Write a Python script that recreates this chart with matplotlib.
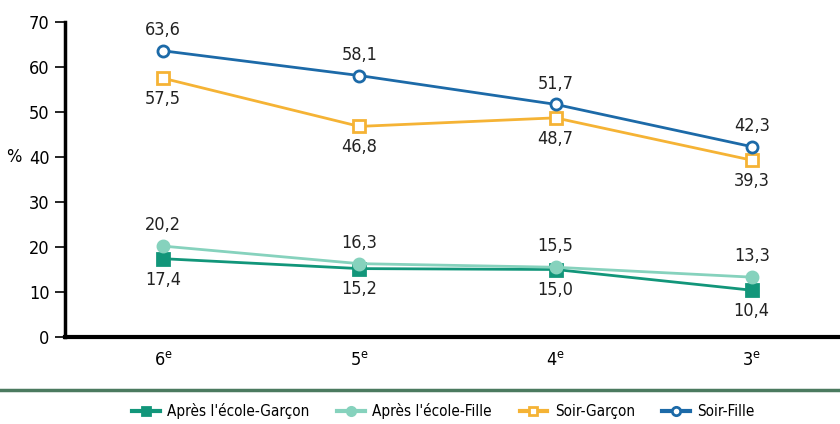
import matplotlib

matplotlib.use("Agg")
import matplotlib.pyplot as plt
from matplotlib.lines import Line2D

plt.rcParams["font.family"] = ["DejaVu Sans"]
plt.rcParams["font.stretch"] = "condensed"

levels = ["6$^{\\mathregular{e}}$", "5$^{\\mathregular{e}}$", "4$^{\\mathregular{e}}$", "3$^{\\mathregular{e}}$"]
apres_garcon = [17.4, 15.2, 15.0, 10.4]
apres_fille = [20.2, 16.3, 15.5, 13.3]
soir_garcon = [57.5, 46.8, 48.7, 39.3]
soir_fille = [63.6, 58.1, 51.7, 42.3]
yticks = [0, 10, 20, 30, 40, 50, 60, 70]

series = [
    # name, values, colour, marker, facecolour, label above?
    ("Après l'école-Garçon", apres_garcon, "#12967a", "s", "#12967a", False),
    ("Après l'école-Fille", apres_fille, "#86d2bd", "o", "#86d2bd", True),
    ("Soir-Garçon", soir_garcon, "#f5b335", "s", "white", False),
    ("Soir-Fille", soir_fille, "#1c6aa8", "o", "white", True),
]

fig = plt.figure(figsize=(8.4, 4.24), dpi=100)
ax = fig.add_axes([65 / 840, 1 - 337 / 424, 1 - 65 / 840, (337 - 22) / 424])

xs = list(range(len(levels)))
handles = []
for name, vals, col, mk, fc, above in series:
    ax.plot(xs, vals, color=col, lw=2, marker=mk, ms=8, mfc=fc, mec=col,
            mew=2, zorder=3, clip_on=False)
    for x, v in zip(xs, vals):
        off = 15 if above else -15
        ax.annotate(f"{v:.1f}".replace(".", ","), (x, v), textcoords="offset points",
                    xytext=(0, off), ha="center", va="center", fontsize=13,
                    color="#222222")
    handles.append(Line2D([], [], color=col, lw=3, marker=mk, ms=6, mfc=fc,
                          mec=col, mew=2, label=name))

ax.set_xlim(-0.5, 3.45)
ax.set_ylim(0, 70)
ax.set_xticks(xs)
ax.set_xticklabels(levels, fontsize=13)
ax.set_yticks(yticks)
ax.tick_params(axis="y", length=7, width=1.2, labelsize=13, pad=4)
ax.tick_params(axis="x", length=0, pad=10)
for s in ("top", "right"):
    ax.spines[s].set_visible(False)
ax.spines["left"].set_linewidth(2.5)
ax.spines["bottom"].set_linewidth(3)
ax.text(-0.066, 0.57, "%", transform=ax.transAxes, fontsize=13, ha="center", va="center")

# separator line above the legend
fig.add_artist(Line2D([0, 1], [1 - 390 / 424] * 2, color="#4b7a5f", lw=2.5))

fig.legend(handles=handles, loc="center", bbox_to_anchor=(0.528, 1 - 411 / 424),
           ncol=4, frameon=False, fontsize=11, handlelength=1.8, columnspacing=1.8,
           handletextpad=0.5)

fig.savefig("out.png", dpi=100)
